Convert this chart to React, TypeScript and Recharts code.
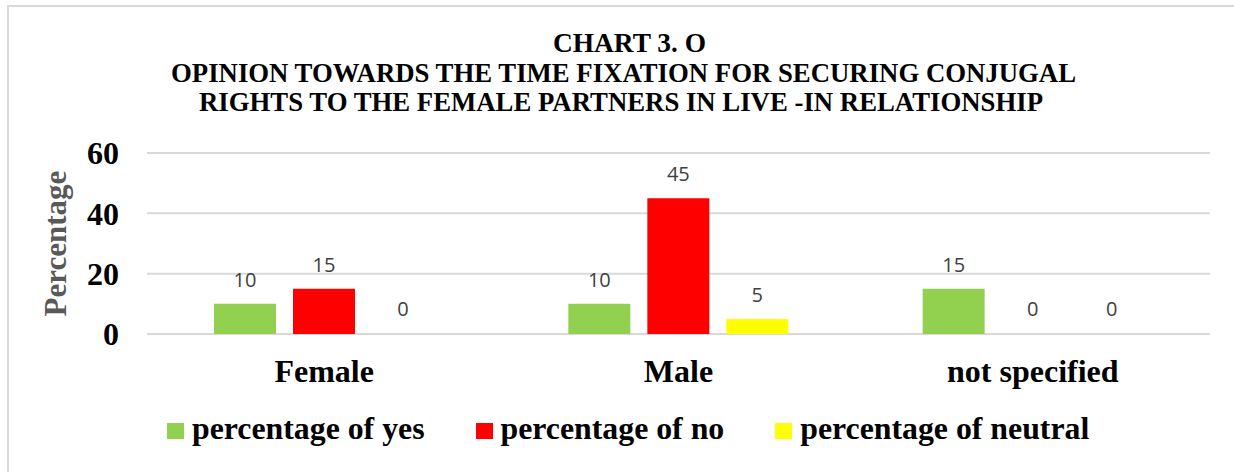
import { BarChart, Bar, XAxis, YAxis, CartesianGrid, LabelList, Rectangle } from "recharts";

const categories = ["Female", "Male", "not specified"];
const yesValues = [10, 10, 15];
const noValues = [15, 45, 0];
const neutralValues = [0, 5, 0];
const yTicks = [0, 20, 40, 60];

const titleLines = [
  "CHART 3. O",
  "OPINION TOWARDS THE TIME FIXATION FOR SECURING CONJUGAL",
  "RIGHTS TO THE FEMALE PARTNERS IN LIVE -IN RELATIONSHIP",
];

const series = [
  { key: "yes", name: "percentage of yes", color: "#92D050" },
  { key: "no", name: "percentage of no", color: "#FF0000" },
  { key: "neutral", name: "percentage of neutral", color: "#FFFF00" },
];

const data = categories.map((category, i) => ({
  category,
  yes: yesValues[i],
  no: noValues[i],
  neutral: neutralValues[i],
}));

const serif = '"Liberation Serif", "Times New Roman", serif';

// title line placement (start x, baseline, width)
const titleLayout = [
  { x: 553, y: 52, w: 153 },
  { x: 171, y: 82, w: 905 },
  { x: 199, y: 111, w: 844 },
];

// zero values still get a label in the original, so keep a 1px slot but draw nothing
const BarShape = (props: any) => {
  const v = props.value;
  const num = Array.isArray(v) ? v[1] - v[0] : v;
  if (!num) return <g />;
  return <Rectangle {...props} />;
};

export default function App() {
  return (
    <div
      style={{
        position: "absolute",
        left: 0,
        top: 0,
        width: 1234,
        height: 472,
        background: "#fff",
        overflow: "hidden",
        fontFamily: serif,
      }}
    >
      <div
        style={{
          position: "absolute",
          left: 7,
          top: 5,
          width: 1400,
          height: 600,
          borderLeft: "2px solid #D9D9D9",
          borderTop: "2px solid #D9D9D9",
        }}
      />
      <svg width={1234} height={130} style={{ position: "absolute", left: 0, top: 0 }}>
        {titleLines.map((line, i) => (
          <text
            key={i}
            x={titleLayout[i].x}
            y={titleLayout[i].y}
            textLength={titleLayout[i].w}
            lengthAdjust="spacingAndGlyphs"
            fontFamily={serif}
            fontWeight="bold"
            fontSize={28}
            fill="#000"
          >
            {line}
          </text>
        ))}
      </svg>
      <div style={{ position: "absolute", left: 0, top: 0 }}>
        <BarChart
          width={1234}
          height={472}
          data={data}
          margin={{ top: 153, right: 24, bottom: 0, left: 0 }}
          barGap={17}
        >
          <CartesianGrid vertical={false} stroke="#D9D9D9" strokeWidth={2} />
          <XAxis
            dataKey="category"
            height={138}
            axisLine={false}
            tickLine={false}
            tickSize={0}
            tickMargin={25}
            tick={{ fill: "#000", fontSize: 32, fontWeight: "bold", fontFamily: serif }}
          />
          <YAxis
            width={147}
            domain={[0, 60]}
            ticks={yTicks}
            axisLine={false}
            tickLine={false}
            tickSize={0}
            tickMargin={28}
            tick={{ fill: "#000", fontSize: 32, fontWeight: "bold", fontFamily: serif }}
            label={{
              value: "Percentage",
              angle: -90,
              position: "insideLeft",
              offset: 55,
              style: {
                textAnchor: "middle",
                fill: "#595959",
                fontSize: 31,
                fontWeight: "bold",
                fontFamily: serif,
              },
            }}
          />
          {series.map((s) => (
            <Bar
              key={s.key}
              dataKey={s.key}
              name={s.name}
              fill={s.color}
              barSize={62}
              minPointSize={1}
              shape={BarShape}
              isAnimationActive={false}
            >
              <LabelList
                dataKey={s.key}
                position="top"
                offset={17}
                style={{ fill: "#404040", fontSize: 20, fontFamily: '"Open Sans", sans-serif' }}
              />
            </Bar>
          ))}
        </BarChart>
      </div>
      <div
        style={{
          position: "absolute",
          left: 167,
          top: 413,
          display: "flex",
          alignItems: "center",
          gap: 51,
        }}
      >
        {series.map((s) => (
          <div key={s.key} style={{ display: "flex", alignItems: "center" }}>
            <span
              style={{
                display: "inline-block",
                width: 17,
                height: 16,
                background: s.color,
                marginRight: 8,
                marginTop: 3,
              }}
            />
            <span style={{ fontSize: 31.8, fontWeight: "bold", lineHeight: "32px", color: "#000" }}>
              {s.name}
            </span>
          </div>
        ))}
      </div>
    </div>
  );
}
